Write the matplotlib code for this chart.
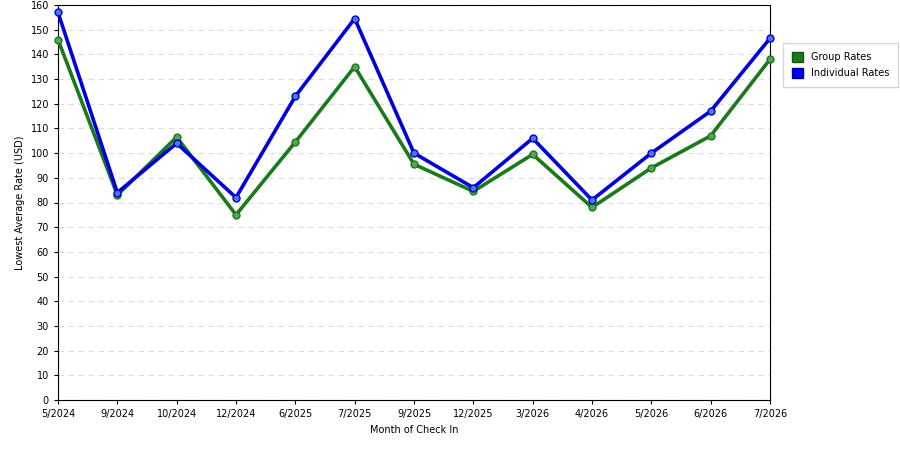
import matplotlib
matplotlib.use("Agg")
import matplotlib.pyplot as plt
from matplotlib.patches import Patch

months = ["5/2024", "9/2024", "10/2024", "12/2024", "6/2025", "7/2025", "9/2025",
          "12/2025", "3/2026", "4/2026", "5/2026", "6/2026", "7/2026"]
group_rates = [146, 83, 106.5, 75, 104.5, 135, 95.5, 84.5, 99.5, 78, 94, 107, 138]
indiv_rates = [157, 84, 104, 82, 123, 154.5, 100, 86, 106, 81, 100, 117, 146.5]

fig = plt.figure(figsize=(9, 4.5), dpi=100)
ax = fig.add_axes([58/900, 50/450, 712/900, 395/450])
x = range(len(months))
ax.plot(x, group_rates, color="#1a7a1a", lw=2.6, marker="o", ms=5,
        mfc="#5aa05a", mec="#1a7a1a", zorder=3, clip_on=False)
ax.plot(x, indiv_rates, color="#0000dd", lw=2.6, marker="o", ms=5,
        mfc="#4a7ae0", mec="#0000dd", zorder=3, clip_on=False)
ax.set_xlim(0, len(months) - 1)
ax.set_ylim(0, 160)
ax.set_yticks(range(0, 161, 10))
ax.set_xticks(list(x))
ax.set_xticklabels(months)
ax.tick_params(labelsize=7, length=3)
ax.grid(axis="y", ls=(0, (5, 4)), color="#dddddd", lw=0.8)
ax.set_axisbelow(True)
ax.set_xlabel("Month of Check In", fontsize=7)
ax.set_ylabel("Lowest Average Rate (USD)", fontsize=7)
handles = [Patch(facecolor="#1a7a1a", edgecolor="#115511", label="Group Rates"),
           Patch(facecolor="#0000ff", edgecolor="#000088", label="Individual Rates")]
fig.legend(handles=handles, loc="upper left", bbox_to_anchor=(778/900, 1 - 38/450),
           fontsize=7, frameon=True, fancybox=False, edgecolor="#cccccc",
           handlelength=1.2, handleheight=1.2, borderpad=0.9, labelspacing=0.6)
fig.savefig("out.png")
